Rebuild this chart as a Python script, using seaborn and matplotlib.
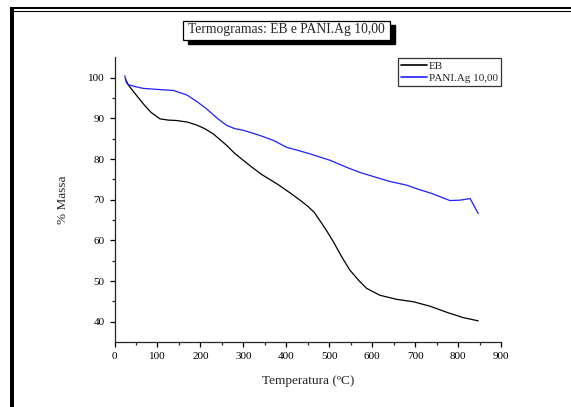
import pandas as pd
import matplotlib.pyplot as plt
import seaborn as sns
from matplotlib.patches import Rectangle
from matplotlib.lines import Line2D

# ============================================================================
# Data
# ============================================================================
eb_temp = [25, 32, 45, 67, 85, 106, 125, 144, 170, 191, 210, 230, 261, 280, 300,
           320, 343, 380, 410, 432, 450, 465, 480, 495, 510, 530, 548, 570, 587,
           618, 657, 696, 735, 774, 812, 847]
eb_mass = [99.8, 98.3, 96.5, 93.6, 91.5, 89.9, 89.6, 89.5, 89.1, 88.4, 87.5, 86.2,
           83.4, 81.4, 79.7, 78.0, 76.2, 73.8, 71.6, 69.9, 68.4, 66.9, 64.6, 62.2,
           59.6, 55.8, 52.7, 50.0, 48.2, 46.5, 45.5, 44.9, 43.8, 42.3, 41.0, 40.2]

pani_temp = [24, 26, 28, 32, 50, 67, 106, 137, 168, 190, 214, 240, 261, 280, 300,
             339, 370, 401, 432, 455, 502, 540, 572, 600, 641, 680, 704, 740, 781,
             805, 828, 847]
pani_mass = [100.5, 99.6, 98.8, 98.3, 97.8, 97.4, 97.1, 96.9, 95.8, 94.3, 92.4,
             90.0, 88.3, 87.5, 87.1, 85.8, 84.6, 82.9, 82.0, 81.3, 79.7, 78.0,
             76.7, 75.8, 74.5, 73.6, 72.7, 71.5, 69.8, 69.9, 70.3, 66.6]

series_names = ['EB', 'PANI.Ag 10,00']
series_colors = ['black', '#1f1fff']

df = pd.concat([
    pd.DataFrame({'T': eb_temp, 'm': eb_mass, 'serie': series_names[0]}),
    pd.DataFrame({'T': pani_temp, 'm': pani_mass, 'serie': series_names[1]}),
], ignore_index=True)

# ============================================================================
# Plot
# ============================================================================
sns.set_style("ticks")
plt.rcParams['font.family'] = ['Liberation Serif', 'DejaVu Serif']
plt.rcParams['axes.linewidth'] = 0.9

W, H = 571, 407
fig = plt.figure(figsize=(W / 100, H / 100), dpi=100)
ax = fig.add_axes([114.5 / W, 1 - 342 / H, (501 - 114.5) / W, (342 - 57.5) / H])

sns.lineplot(data=df, x='T', y='m', hue='serie', palette=series_colors,
             estimator=None, sort=False, linewidth=0.9, ax=ax)

ax.set_xlim(0, 900)
ax.set_ylim(35, 105)
ax.set_xticks(range(0, 901, 100))
ax.set_xticks(range(50, 900, 100), minor=True)
ax.set_yticks(range(40, 101, 10))
ax.set_yticks(range(45, 105, 10), minor=True)
ax.tick_params(which='major', direction='out', length=3.5, width=0.9, labelsize=8, colors='black')
ax.tick_params(which='minor', direction='out', length=2, width=0.9)
sns.despine(ax=ax)
ax.set_xlabel('Temperatura (ºC)', fontsize=9.5, labelpad=10)
ax.set_ylabel('% Massa', fontsize=9.5, labelpad=14)

leg = ax.legend(loc='upper right', bbox_to_anchor=(1.0, 1.0), borderaxespad=0,
                fontsize=8, frameon=True, fancybox=False, handlelength=2.3,
                handletextpad=0.15, borderpad=0.3, labelspacing=0.2)
leg.get_frame().set_edgecolor('black')
leg.get_frame().set_linewidth(0.9)
for h in leg.get_lines():
    h.set_linewidth(1.2)

# title box with drop shadow
def fx(px):
    return px / W

def fy(py):
    return 1 - py / H

fig.add_artist(Rectangle((fx(188), fy(44)), fx(207), 19 / H, transform=fig.transFigure,
                         facecolor='black', edgecolor='black', zorder=5))
fig.add_artist(Rectangle((fx(183), fy(39.5)), fx(207), 19 / H, transform=fig.transFigure,
                         facecolor='white', edgecolor='black', linewidth=0.9, zorder=6))
fig.text(fx(286.5), fy(30), 'Termogramas: EB e PANI.Ag 10,00', ha='center', va='center',
         fontsize=9.8, zorder=7)

# page frame
fig.add_artist(Rectangle((fx(10), 0), 4 / W, fy(6.5), transform=fig.transFigure,
                         facecolor='black', edgecolor='none'))
fig.add_artist(Rectangle((fx(10), fy(9)), 1 - fx(10), 2.5 / H, transform=fig.transFigure,
                         facecolor='black', edgecolor='none'))
fig.add_artist(Line2D([fx(10), 1], [fy(10.8), fy(10.8)], transform=fig.transFigure,
                      color='black', linewidth=0.8))

fig.savefig('out.png', dpi=100)
